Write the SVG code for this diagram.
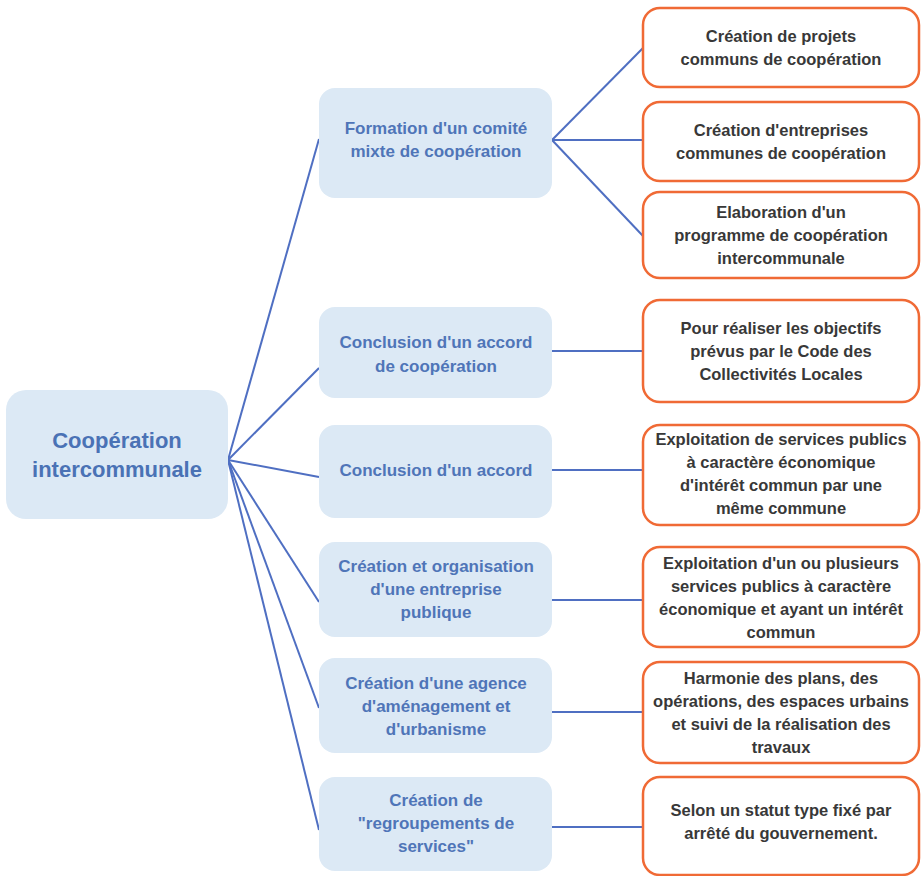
<svg xmlns="http://www.w3.org/2000/svg" width="921" height="876" viewBox="0 0 921 876">
<style>
.root{fill:#dce9f5}
.mid{fill:#dce9f5}
.leaf{fill:#ffffff;stroke:#f06a35;stroke-width:2.5}
.rt{font-family:"Liberation Sans",Arial,sans-serif;font-weight:bold;font-size:22px;fill:#4a72b5;text-anchor:middle}
.mt{font-family:"Liberation Sans",Arial,sans-serif;font-weight:bold;font-size:17px;fill:#4f75b8;text-anchor:middle}
.lt{font-family:"Liberation Sans",Arial,sans-serif;font-weight:bold;font-size:16.5px;fill:#383838;text-anchor:middle}
.c{stroke:#4f6fc2;stroke-width:2;fill:none}
</style>
<rect width="921" height="876" fill="#ffffff"/>
<g id="connectors">
<line class="c" x1="228" y1="460" x2="319" y2="139"/>
<line class="c" x1="228" y1="460" x2="319" y2="368"/>
<line class="c" x1="228" y1="460" x2="319" y2="477"/>
<line class="c" x1="228" y1="460" x2="319" y2="602"/>
<line class="c" x1="228" y1="460" x2="319" y2="708"/>
<line class="c" x1="228" y1="460" x2="319" y2="830"/>
<line class="c" x1="552" y1="140" x2="643" y2="48"/>
<line class="c" x1="552" y1="140" x2="643" y2="140"/>
<line class="c" x1="552" y1="140" x2="643" y2="236"/>
<line class="c" x1="552" y1="351" x2="643" y2="351"/>
<line class="c" x1="552" y1="470" x2="643" y2="470"/>
<line class="c" x1="552" y1="600" x2="643" y2="600"/>
<line class="c" x1="552" y1="712" x2="643" y2="712"/>
<line class="c" x1="552" y1="827" x2="643" y2="827"/>
</g>
<g id="root">
<rect class="root" x="6" y="390" width="222" height="129" rx="20"/>
<text class="rt" x="117" y="448">Coopération</text>
<text class="rt" x="117" y="477">intercommunale</text>
</g>
<g id="m1">
<rect class="mid" x="319" y="88" width="233" height="110" rx="16"/>
<text class="mt" x="436" y="134">Formation d'un comité</text>
<text class="mt" x="436" y="157">mixte de coopération</text>
</g>
<g id="m2">
<rect class="mid" x="319" y="307" width="233" height="91" rx="16"/>
<text class="mt" x="436" y="348">Conclusion d'un accord</text>
<text class="mt" x="436" y="372">de coopération</text>
</g>
<g id="m3">
<rect class="mid" x="319" y="425" width="233" height="93" rx="16"/>
<text class="mt" x="436" y="476">Conclusion d'un accord</text>
</g>
<g id="m4">
<rect class="mid" x="319" y="542" width="233" height="95" rx="16"/>
<text class="mt" x="436" y="572">Création et organisation</text>
<text class="mt" x="436" y="595">d'une entreprise</text>
<text class="mt" x="436" y="618">publique</text>
</g>
<g id="m5">
<rect class="mid" x="319" y="658" width="233" height="95" rx="16"/>
<text class="mt" x="436" y="689">Création d'une agence</text>
<text class="mt" x="436" y="712">d'aménagement et</text>
<text class="mt" x="436" y="735">d'urbanisme</text>
</g>
<g id="m6">
<rect class="mid" x="319" y="777" width="233" height="94" rx="16"/>
<text class="mt" x="436" y="806">Création de</text>
<text class="mt" x="436" y="829">"regroupements de</text>
<text class="mt" x="436" y="852">services"</text>
</g>
<g id="r1">
<rect class="leaf" x="643" y="8" width="276" height="79" rx="17"/>
<text class="lt" x="781" y="42">Création de projets</text>
<text class="lt" x="781" y="65">communs de coopération</text>
</g>
<g id="r2">
<rect class="leaf" x="643" y="102" width="276" height="79" rx="17"/>
<text class="lt" x="781" y="136">Création d'entreprises</text>
<text class="lt" x="781" y="159">communes de coopération</text>
</g>
<g id="r3">
<rect class="leaf" x="643" y="192" width="276" height="86" rx="17"/>
<text class="lt" x="781" y="218">Elaboration d'un</text>
<text class="lt" x="781" y="241">programme de coopération</text>
<text class="lt" x="781" y="264">intercommunale</text>
</g>
<g id="r4">
<rect class="leaf" x="643" y="300" width="276" height="102" rx="17"/>
<text class="lt" x="781" y="334">Pour réaliser les objectifs</text>
<text class="lt" x="781" y="357">prévus par le Code des</text>
<text class="lt" x="781" y="380">Collectivités Locales</text>
</g>
<g id="r5">
<rect class="leaf" x="643" y="425" width="276" height="100" rx="17"/>
<text class="lt" x="781" y="445">Exploitation de services publics</text>
<text class="lt" x="781" y="468">à caractère économique</text>
<text class="lt" x="781" y="491">d'intérêt commun par une</text>
<text class="lt" x="781" y="514">même commune</text>
</g>
<g id="r6">
<rect class="leaf" x="643" y="547" width="276" height="100" rx="17"/>
<text class="lt" x="781" y="569">Exploitation d'un ou plusieurs</text>
<text class="lt" x="781" y="592">services publics à caractère</text>
<text class="lt" x="781" y="615">économique et ayant un intérêt</text>
<text class="lt" x="781" y="638">commun</text>
</g>
<g id="r7">
<rect class="leaf" x="643" y="662" width="276" height="101" rx="17"/>
<text class="lt" x="781" y="684">Harmonie des plans, des</text>
<text class="lt" x="781" y="707">opérations, des espaces urbains</text>
<text class="lt" x="781" y="730">et suivi de la réalisation des</text>
<text class="lt" x="781" y="753">travaux</text>
</g>
<g id="r8">
<rect class="leaf" x="643" y="777" width="276" height="98" rx="17"/>
<text class="lt" x="781" y="816">Selon un statut type fixé par</text>
<text class="lt" x="781" y="839">arrêté du gouvernement.</text>
</g>
</svg>
